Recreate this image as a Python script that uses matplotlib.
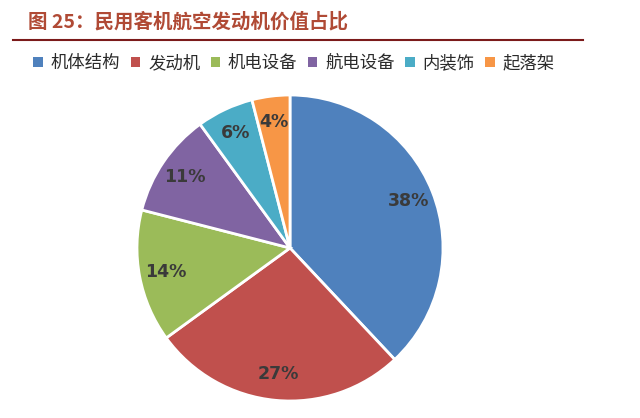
import matplotlib
matplotlib.use("Agg")
import matplotlib.pyplot as plt
from matplotlib.patches import Patch

plt.rcParams['font.family'] = ['Noto Sans CJK SC', 'DejaVu Sans']

categories = ["机体结构", "发动机", "机电设备", "航电设备", "内装饰", "起落架"]
values = [38, 27, 14, 11, 6, 4]
colors = ["#4F81BD", "#C0504D", "#9BBB59", "#8064A2", "#4BACC6", "#F79646"]
title = "图 25：民用客机航空发动机价值占比"

W, H = 640, 418
fig = plt.figure(figsize=(W/100, H/100), dpi=100)
fig.patch.set_facecolor("white")

# title
fig.text(28/W, 1-22/H, title, color="#B04A35", fontsize=14, fontweight="bold",
         va="center", ha="left")
fig.add_artist(plt.Line2D([13/W, 583/W], [1-40/H, 1-40/H], color="#7B1A1A", lw=1.5))

# pie
cx, cy, r = 290, 248, 153
ax = fig.add_axes([(cx-r)/W, (H-cy-r)/H, 2*r/W, 2*r/H])
wedges, texts, autotexts = ax.pie(values, colors=colors, startangle=90, counterclock=False,
       autopct=lambda p: f"{p:.0f}%", pctdistance=0.83,
       wedgeprops=dict(edgecolor="white", linewidth=2),
       textprops=dict(color="#3A3A3A", fontsize=12.5, fontweight="bold", family="DejaVu Sans"))
ax.set_xlim(-1, 1); ax.set_ylim(-1, 1)
ax.set_aspect("equal")
ax.axis("off")

handles = [Patch(facecolor=c, edgecolor="none") for c in colors]
fig.legend(handles, categories, loc="center", bbox_to_anchor=(294/W, 1-63/H), ncol=6,
           frameon=False, fontsize=12.5, handlelength=0.55, handleheight=0.55,
           handletextpad=0.45, columnspacing=0.6, labelcolor="#2A2A2A")

fig.savefig("out.png", dpi=100, facecolor="white")
